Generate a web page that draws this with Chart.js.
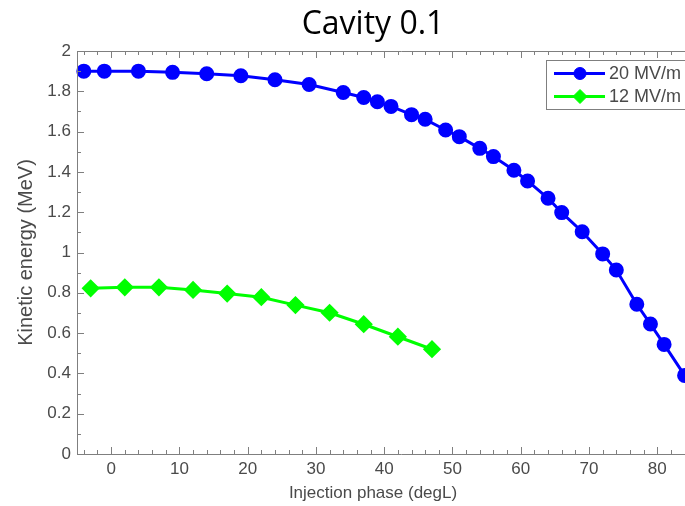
<!DOCTYPE html>
<html>
<head>
<meta charset="utf-8">
<script src="https://cdn.jsdelivr.net/npm/chart.js@4.4.0/dist/chart.umd.min.js"></script>
<style>
  html, body { margin: 0; padding: 0; background: #fff; overflow: hidden; width: 685px; height: 506px; }
  #wrap { position: absolute; left: 0; top: 0; width: 740px; height: 506px; }
  #title { position: absolute; top: 0px; left: 273px; width: 200px; text-align: center;
           font-family: "Open Sans", "Noto Sans", sans-serif; font-size: 32px; color: #000; }
</style>
</head>
<body>
<div id="wrap"><canvas id="chart" width="740" height="506"></canvas></div>
<div id="title">Cavity 0.1</div>
<script>
// data
var phase20 = [-4, -1, 4, 9, 14, 19, 24, 29, 34, 37, 39, 41, 44, 46, 49, 51, 54, 56, 59, 61, 64, 66, 69, 72, 74, 77, 79, 81, 84];
var energy20 = [1.90, 1.90, 1.90, 1.894, 1.887, 1.877, 1.857, 1.834, 1.794, 1.769, 1.748, 1.725, 1.684, 1.661, 1.608, 1.575, 1.517, 1.476, 1.408, 1.355, 1.269, 1.198, 1.103, 0.993, 0.913, 0.743, 0.645, 0.544, 0.39];
var phase12 = [-3, 2, 7, 12, 17, 22, 27, 32, 37, 42, 47];
var energy12 = [0.822, 0.827, 0.827, 0.814, 0.796, 0.778, 0.739, 0.701, 0.644, 0.582, 0.520];
var seriesNames = ["20 MV/m", "12 MV/m"];
var xTicks = [0, 10, 20, 30, 40, 50, 60, 70, 80, 90];
var yTicks = [0, 0.2, 0.4, 0.6, 0.8, 1, 1.2, 1.4, 1.6, 1.8, 2];
var xTitle = 'Injection phase (degL)';

var axisColor = '#7f7f7f';
var labelColor = '#4a4a4a';
var font = 'Liberation Sans, Arial, sans-serif';

function pts(xs, ys) {
    return xs.map(function (x, i) { return {x: x, y: ys[i]}; });
}

// MATLAB style box with inward ticks + legend inside the axes
var axesBox = {
    id: 'axesBox',
    afterDraw: function (chart) {
        var ctx = chart.ctx;
        var a = chart.chartArea;
        var xs = chart.scales.x, ys = chart.scales.y;
        ctx.save();
        ctx.strokeStyle = axisColor;
        ctx.lineWidth = 1;
        ctx.beginPath();
        ctx.moveTo(a.left + 0.5, a.top + 0.5);
        ctx.lineTo(a.right, a.top + 0.5);
        ctx.moveTo(a.left + 0.5, a.top);
        ctx.lineTo(a.left + 0.5, a.bottom + 0.5);
        ctx.lineTo(a.right, a.bottom + 0.5);
        ctx.moveTo(a.right - 0.5, a.top);
        ctx.lineTo(a.right - 0.5, a.bottom);
        // x ticks (major every 10, minor every 2)
        for (var v = -4; v <= xs.max; v += 2) {
            var px = Math.round(xs.getPixelForValue(v)) + 0.5;
            var len = (v % 10 === 0) ? 7 : 4;
            ctx.moveTo(px, a.bottom); ctx.lineTo(px, a.bottom - len);
            ctx.moveTo(px, a.top); ctx.lineTo(px, a.top + len);
        }
        // y ticks (major every 0.2, minor every 0.1)
        for (var k = 0; k <= 20; k++) {
            var py = Math.round(ys.getPixelForValue(k / 10)) + 0.5;
            var l2 = (k % 2 === 0) ? 7 : 4;
            ctx.moveTo(a.left, py); ctx.lineTo(a.left + l2, py);
        }
        ctx.stroke();

        // x axis title (sits left of the plot centre in the slide)
        ctx.fillStyle = labelColor;
        ctx.font = '17px ' + font;
        ctx.textAlign = 'center';
        ctx.textBaseline = 'middle';
        ctx.fillText(xTitle, 373, 493);

        // legend
        var bx = 546, by = 60, bw = 180, bh = 49;
        ctx.fillStyle = '#fff';
        ctx.fillRect(bx, by, bw, bh);
        ctx.strokeStyle = axisColor;
        ctx.lineWidth = 1;
        ctx.strokeRect(bx + 0.5, by + 0.5, bw, bh);
        chart.data.datasets.forEach(function (ds, i) {
            var yy = 73.5 + i * 23;
            ctx.strokeStyle = ds.borderColor;
            ctx.fillStyle = ds.borderColor;
            ctx.lineWidth = 3;
            ctx.beginPath();
            ctx.moveTo(554, yy); ctx.lineTo(605, yy);
            ctx.stroke();
            ctx.lineWidth = 1;
            Chart.helpers.drawPoint(ctx, {
                pointStyle: ds.pointStyle, radius: ds.pointRadius, borderWidth: 1
            }, 580, yy);
            ctx.fillStyle = labelColor;
            ctx.font = '18px ' + font;
            ctx.textBaseline = 'middle';
            ctx.textAlign = 'left';
            ctx.fillText(ds.label, 609, yy + 1);
        });
        ctx.restore();
    }
};

new Chart(document.getElementById('chart'), {
    type: 'line',
    data: {
        datasets: [
            {
                label: seriesNames[0],
                data: pts(phase20, energy20),
                borderColor: '#0000ff',
                backgroundColor: '#0000ff',
                pointBackgroundColor: '#0000ff',
                pointBorderColor: '#0000ff',
                borderWidth: 3,
                pointStyle: 'circle',
                pointRadius: 6,
                tension: 0
            },
            {
                label: seriesNames[1],
                data: pts(phase12, energy12),
                borderColor: '#00ff00',
                backgroundColor: '#00ff00',
                pointBackgroundColor: '#00ff00',
                pointBorderColor: '#00ff00',
                borderWidth: 3,
                pointStyle: 'rectRot',
                pointRadius: 7,
                tension: 0
            }
        ]
    },
    options: {
        responsive: false,
        animation: false,
        events: [],
        clip: false,
        layout: {padding: {top: 51, right: 11, left: 0, bottom: 0}},
        plugins: {
            legend: {display: false},
            tooltip: {enabled: false},
            title: {display: false}
        },
        scales: {
            x: {
                type: 'linear',
                min: -5,
                max: 90,
                afterBuildTicks: function (s) { s.ticks = xTicks.map(function (v) { return {value: v}; }); },
                afterFit: function (s) { s.height = 52; },
                grid: {display: false, drawTicks: false},
                border: {display: false},
                ticks: {color: labelColor, font: {family: font, size: 17}, padding: 5, maxRotation: 0},
                title: {display: false}
            },
            y: {
                type: 'linear',
                min: 0,
                max: 2,
                afterBuildTicks: function (s) { s.ticks = yTicks.map(function (v) { return {value: v}; }); },
                afterFit: function (s) { s.width = 77; },
                grid: {display: false, drawTicks: false},
                border: {display: false},
                ticks: {color: labelColor, font: {family: font, size: 17}, padding: 6,
                        callback: function (v) { return String(+v.toFixed(1)); }},
                title: {display: true, text: 'Kinetic energy (MeV)', color: labelColor,
                        font: {family: font, size: 20}, padding: {top: 14, bottom: 0}}
            }
        }
    },
    plugins: [axesBox]
});
</script>
</body>
</html>
